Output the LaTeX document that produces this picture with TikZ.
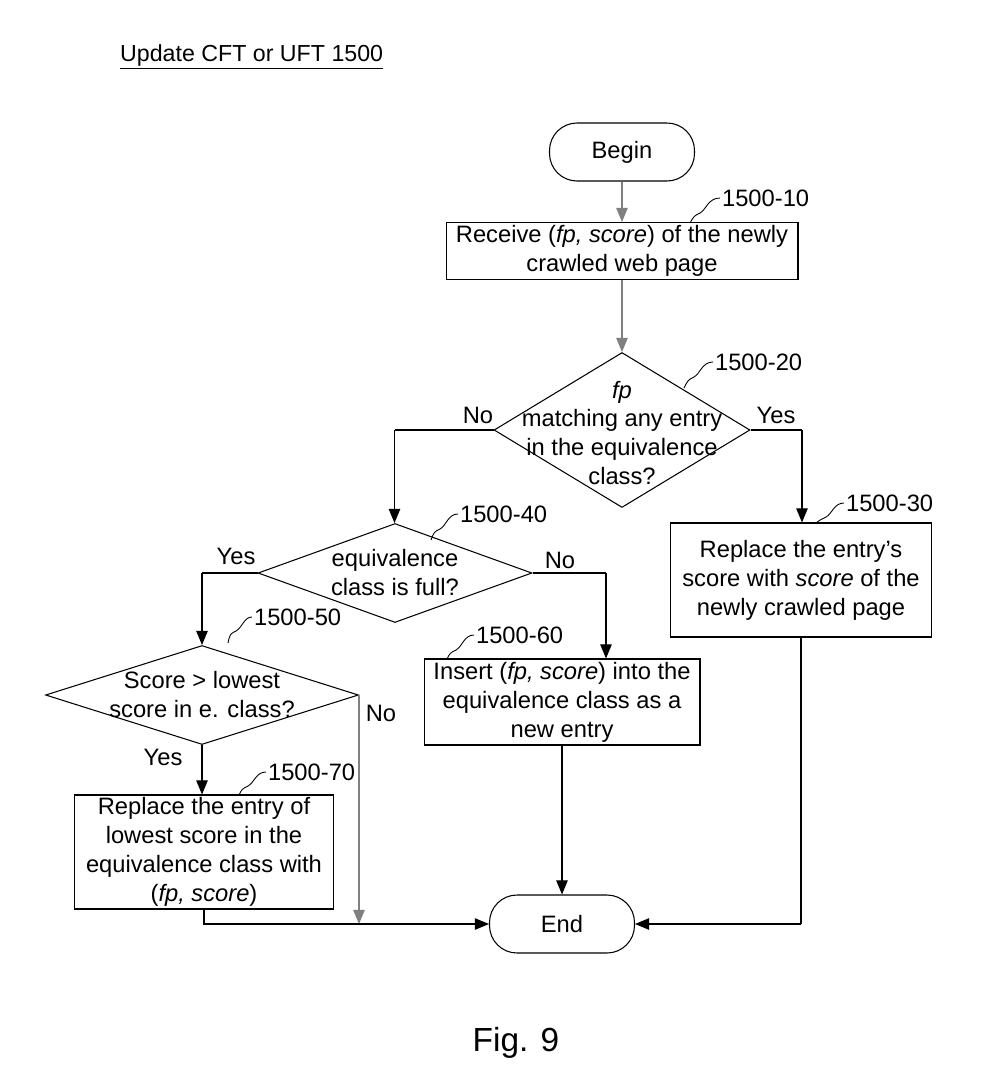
\documentclass[tikz,border=0pt]{standalone}
\usepackage{fontspec}
\setmainfont{Liberation Sans}
\usetikzlibrary{shapes.geometric,arrows.meta}
\begin{document}
\begin{tikzpicture}[x=0.02cm,y=-0.02cm,
  every node/.style={font=\fontsize{13.5}{16.5}\selectfont},
  box/.style={draw,line width=0.6pt,align=center,inner sep=0},
  term/.style={draw,line width=0.6pt,rounded corners=0.55cm,minimum width=2.9cm,minimum height=1.16cm},
  dia/.style={draw,diamond,line width=0.6pt,inner sep=0},
  con/.style={line width=0.6pt,-{Triangle[length=8pt,width=6.5pt]}},
  ln/.style={line width=0.6pt},
  tag/.style={line width=0.5pt},
  lab/.style={anchor=west,inner sep=1pt}]
\useasboundingbox (0,0) rectangle (990,1089);
\node[anchor=west,font=\fontsize{13.2}{16}\selectfont] (title) at (114,57) {\underline{Update CFT or UFT 1500}};
\node[term] (begin) at (622,152) {Begin};
\node[box,minimum width=7.04cm,minimum height=1.14cm] (b10) at (622,251) {Receive (\textit{fp, score}) of the newly\\crawled web page};
\node[dia,minimum width=5.12cm,minimum height=3.1cm] (d20) at (622,430) {};
\node[align=center] (t20) at (622,433) {\textit{fp}\\matching any entry\\in the equivalence\\class?};
\node[box,minimum width=5.22cm,minimum height=2.28cm] (b30) at (801,580) {Replace the entry's\\score with \textit{score} of the\\newly crawled page};
\node[dia,minimum width=5.48cm,minimum height=1.98cm] (d40) at (395,573) {};
\node[align=center] (t40) at (395,573) {equivalence\\class is full?};
\node[dia,minimum width=6.26cm,minimum height=1.98cm] (d50) at (202,695) {};
\node[align=center] (t50) at (202,695) {Score > lowest\\score in e. class?};
\node[box,minimum width=5.52cm,minimum height=1.72cm] (b60) at (562,702) {Insert (\textit{fp, score}) into the\\equivalence class as a\\new entry};
\node[box,minimum width=5.18cm,minimum height=2.28cm] (b70) at (204,852) {Replace the entry of\\lowest score in the\\equivalence class with\\(\textit{fp, score})};
\node[term] (end) at (562,924) {End};
\node (fig) at (516,1043) {\fontsize{19}{22}\selectfont Fig. 9};
% labels
\node[lab] (l10) at (720,198) {1500-10};
\node[lab] (l20) at (713,362) {1500-20};
\node[lab] (l30) at (844,503) {1500-30};
\node[lab] (l40) at (458,514) {1500-40};
\node[lab] (l50) at (252,617) {1500-50};
\node[lab] (l60) at (474,635) {1500-60};
\node[lab] (l70) at (266,772) {1500-70};
\draw[tag] (l10.west) .. controls (708,198) and (706,210) .. (700,213) .. controls (694,216) .. (690,223);
\draw[tag] (l20.west) .. controls (702,362) and (700,374) .. (694,377) .. controls (688,380) .. (684,388);
\draw[tag] (l30.west) .. controls (834,503) and (832,514) .. (826,517) .. controls (820,520) .. (816,523);
\draw[tag] (l40.west) .. controls (448,514) and (446,526) .. (440,529) .. controls (434,532) .. (431,540);
\draw[tag] (l50.west) .. controls (244,617) and (242,628) .. (236,631) .. controls (230,634) .. (228,643);
\draw[tag] (l60.west) .. controls (464,635) and (462,647) .. (456,650) .. controls (450,653) .. (447,659);
\draw[tag] (l70.west) .. controls (256,772) and (254,783) .. (248,786) .. controls (242,789) .. (239,795);
% connectors
\draw[con,gray] (begin) -- (begin|-b10.north);
\draw[con,gray] (begin|-b10.south) -- (d20.north);
\draw[ln] (d20.west) -- ++(-99,0) coordinate (c1);
\draw[con] (c1) -- (c1|-d40.north);
\node at (478,415) {No};
\draw[ln] (d20.east) -- (802,430) coordinate (c2);
\draw[con] (c2) -- (c2|-b30.north);
\node at (776,415) {Yes};
\draw[ln] (d40.west) -- (202,573) coordinate (c3);
\draw[con] (c3) -- (d50.north);
\node at (236,556) {Yes};
\draw[ln] (d40.east) -- (606,573) coordinate (c4);
\draw[con] (c4) -- (c4|-b60.north);
\node at (560,560) {No};
\draw[con] (d50.south) -- (d50.south|-b70.north);
\node at (163,757) {Yes};
\draw[con,gray] (d50.east) -- (d50.east|-end.west) coordinate (c5);
\node at (381,713) {No};
\draw[con] (b70.south) -- (b70.south|-end.west) coordinate (c6) -- (end.west);
\draw[con] (b60.south-|end) -- (end.north);
\draw[ln] (b30.south) -- (b30.south|-end.east) coordinate (c7);
\draw[con] (c7) -- (end.east);
\end{tikzpicture}
\end{document}
